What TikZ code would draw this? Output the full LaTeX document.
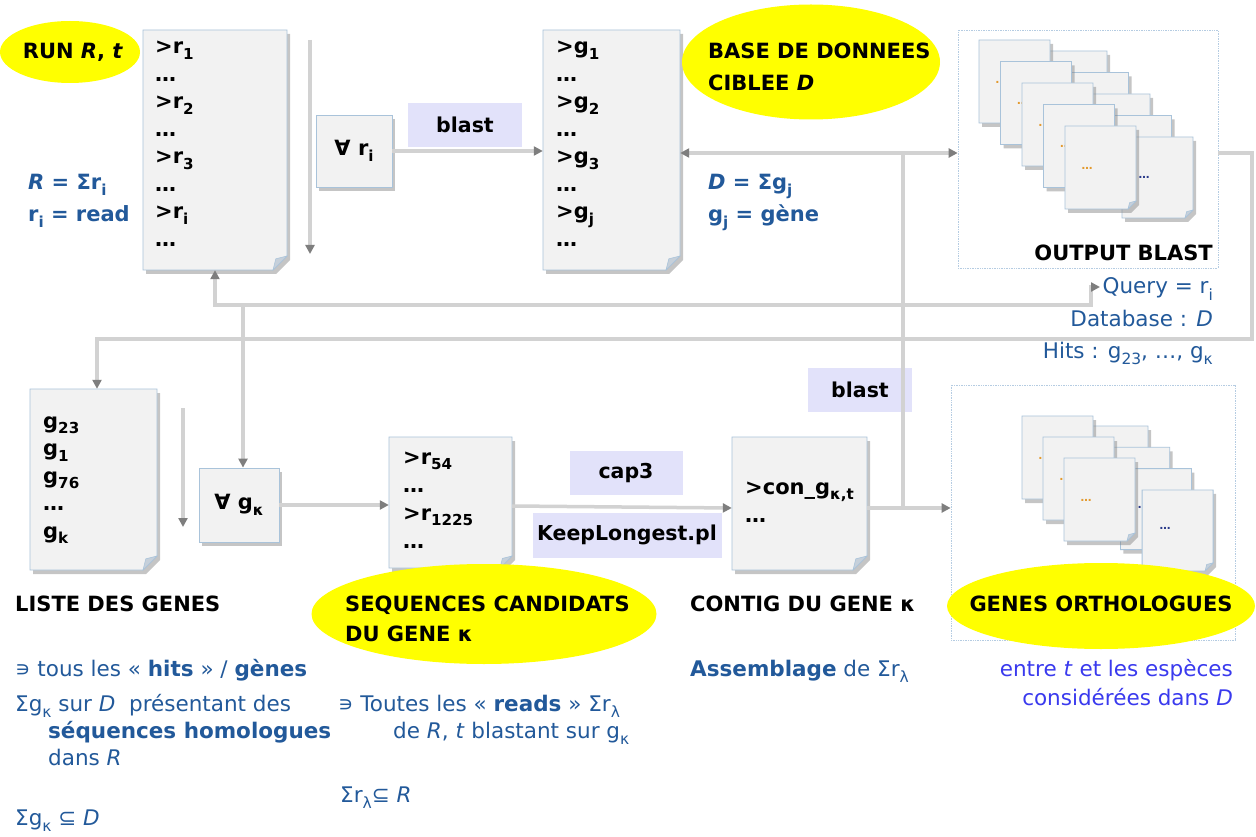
\documentclass[tikz,border=0pt]{standalone}
\usepackage{fontspec}
\usepackage{graphicx}
\setmainfont{DejaVu Sans}
\usetikzlibrary{arrows.meta,shadows,fit,calc,shapes.geometric}

\definecolor{docfillc}{HTML}{F2F2F2}
\definecolor{docedge}{HTML}{A9C3DA}
\definecolor{foldc}{HTML}{C6D0DA}
\definecolor{hilite}{HTML}{FFFF00}
\definecolor{tagfill}{HTML}{E2E2FA}
\definecolor{flowc}{HTML}{D2D2D2}
\definecolor{tipc}{HTML}{7E7E7E}
\definecolor{noteblue}{HTML}{22599A}
\definecolor{brightblue}{HTML}{3A3AEE}
\definecolor{boxdots}{HTML}{B5CCE2}
\definecolor{dotorange}{HTML}{E39A2E}
\definecolor{dotblue}{HTML}{2A3A8A}

% lowered, reduced index
\newcommand\lo[1]{\raisebox{-.28em}{\scalebox{.72}{#1}}}

% page with a folded lower-right corner: name, x0, y0, x1, y1, fold size
\newcommand\docpage[6]{%
  \path[docbody] (#2,#3) -- (#4,#3) -- (#4,#5-#6) -- (#4-#6,#5) -- (#2,#5) -- cycle;
  \path[foldpart] (#4,#5-#6) -- (#4-#6,#5) -- (#4-0.8*#6,#5-0.8*#6) -- cycle;
  \node[inner sep=0pt, fit={(#2,#3)(#4,#5)}] (#1) {};
}

\tikzset{
  flow/.style={draw=flowc, line width=3.5pt},
  arr/.style={flow, -{Triangle[length=9pt,width=9pt,color=tipc]}},
  docbody/.style={fill=docfillc, draw=docedge, line width=0.8pt,
    drop shadow={shadow xshift=3pt, shadow yshift=-4pt, opacity=.45}},
  foldpart/.style={fill=foldc, draw=docedge, line width=0.6pt},
  opbox/.style={rectangle, fill=docfillc, draw=docedge, line width=.8pt,
    drop shadow={shadow xshift=3pt, shadow yshift=-4pt, opacity=.45},
    font=\fontsize{21}{24}\selectfont\bfseries, inner sep=0pt},
  tag/.style={rectangle, fill=tagfill, font=\fontsize{20.5}{24}\selectfont\bfseries, inner sep=0pt},
  hl/.style={ellipse, fill=hilite, inner sep=0pt},
  head/.style={font=\fontsize{21}{24}\selectfont\bfseries, anchor=base west, inner sep=0pt},
  listline/.style={font=\fontsize{21}{24}\selectfont\bfseries, anchor=base west, inner sep=0pt},
  note/.style={text=noteblue, font=\fontsize{21.5}{24}\selectfont, anchor=base west, inner sep=0pt},
  noteB/.style={note, font=\fontsize{21}{24}\selectfont\bfseries},
  noteR/.style={note, anchor=base east},
  dotbox/.style={draw=boxdots, densely dotted, line width=.7pt},
  stackdots/.style={font=\fontsize{11}{12}\selectfont\bfseries, inner sep=0pt},
}

\begin{document}
\begin{tikzpicture}[x=1pt, y=-1pt]
\useasboundingbox[fill=white] (0,0) rectangle (1256,837);

% ---------- containers of result pages ----------
\node[dotbox, inner sep=0pt, fit={(958,30)(1218,268)}] (outbox) {};
\node[dotbox, inner sep=0pt, fit={(951,385)(1235,640)}] (orthbox) {};

% ---------- upper row ----------
\docpage{run}{143}{30}{287}{270}{14}
\foreach \t [count=\i] in {{>r\lo{1}},{…},{>r\lo{2}},{…},{>r\lo{3}},{…},{>r\lo{i}},{…}}
  \node[listline] (runl\i) at (155,54+27.5*\i-27.5) {\t};

\node[opbox, minimum width=76, minimum height=72] (forri) at (354,151) {∀ r\lo{i}};
\node[tag, minimum width=114, minimum height=44] (blastA) at (465,125) {blast};

\docpage{gdoc}{543}{30}{680}{270}{14}
\foreach \t [count=\i] in {{>g\lo{1}},{…},{>g\lo{2}},{…},{>g\lo{3}},{…},{>g\lo{j}},{…}}
  \node[listline] (gl\i) at (556,54+27.5*\i-27.5) {\t};

% stack of blast outputs
\foreach \i in {0,...,4} {
  \pgfmathsetmacro\bx{1036+21.5*\i}
  \pgfmathsetmacro\by{51+21.5*\i}
  \docpage{ob\i}{\bx}{\by}{\bx+71}{\by+81}{8}
  \node[stackdots, text=dotblue] (obd\i) at (\bx+22,\by+40) {…};
  \pgfmathsetmacro\fx{979+21.5*\i}
  \pgfmathsetmacro\fy{40+21.5*\i}
  \docpage{of\i}{\fx}{\fy}{\fx+71}{\fy+83}{8}
  \node[stackdots, text=dotorange] (ofd\i) at (\fx+22,\fy+42) {…};
}

% ---------- lower row ----------
\docpage{liste}{30}{389}{157}{570}{14}
\foreach \t [count=\i] in {{g\lo{23}},{g\lo{1}},{g\lo{76}},{…},{g\lo{k}}}
  \node[listline] (ll\i) at (43,428+27.5*\i-27.5) {\t};

\node[opbox, minimum width=80, minimum height=74] (forgk) at (239,505) {∀ g\lo{κ}};

\docpage{cand}{389}{437}{512}{568}{12}
\foreach \t [count=\i] in {{>r\lo{54}},{…},{>r\lo{1225}},{…}}
  \node[listline] (cl\i) at (403,464+28*\i-28) {\t};

\node[tag, minimum width=113, minimum height=44] (cap) at (626,473) {cap3};
\node[tag, minimum width=189, minimum height=45] (keep) at (627,535) {KeepLongest.pl};

\docpage{contig}{732}{437}{867}{570}{14}
\node[listline] (kl1) at (745,494) {>con\_g\lo{κ,t}};
\node[listline] (kl2) at (745,522) {…};

\node[tag, minimum width=104, minimum height=44] (blastB) at (860,390) {blast};

% stack of orthologous genes
\foreach \i in {0,...,3} {
  \pgfmathsetmacro\bx{1077+21.7*\i}
  \pgfmathsetmacro\by{426+21.3*\i}
  \docpage{gb\i}{\bx}{\by}{\bx+71}{\by+81}{8}
  \node[stackdots, text=dotblue] (gbd\i) at (\bx+23,\by+39) {…};
  \ifnum\i<3
    \pgfmathsetmacro\fx{1022+21*\i}
    \pgfmathsetmacro\fy{416+21*\i}
    \docpage{gf\i}{\fx}{\fy}{\fx+71}{\fy+83}{8}
    \node[stackdots, text=dotorange] (gfd\i) at (\fx+22,\fy+42) {…};
  \fi
}

% ---------- connectors ----------
\coordinate (jA) at (903,153);
\coordinate (jB) at (903,508);
\coordinate (jC) at (243,305);
\coordinate (loopR) at (1252,153);
\coordinate (loopB) at (1252,339);
\coordinate (loopL) at (97,339);
\coordinate (qbend) at (1091,305);
\coordinate (qturn) at (1091,287);
\coordinate (qtip) at (1100,287);
\coordinate (rbend) at (215,305);
\coordinate (scrollAtop) at (310,40);
\coordinate (scrollAbot) at (310,254);
\coordinate (scrollBtop) at (183,408);
\coordinate (scrollBbot) at (183,527);

\draw[arr] (scrollAtop) -- (scrollAbot);
\draw[arr] (scrollBtop) -- (scrollBbot);

\draw[arr] (forri.east) -- (forri.east -| gdoc.west);
\draw[flow] (jB) -- (jA);
\draw[arr] (jA) -- (jA -| gdoc.east);
\draw[arr] (jA) -- (jA -| outbox.west);
\draw[arr] (outbox.east |- jA) -- (loopR) -- (loopB) -- (loopL) -- (loopL |- liste.north);

\draw[arr] (jC) -- (rbend) -- (rbend |- run.south);
\draw[arr] (jC) -- (qbend) -- (qturn) -- (qtip);
\draw[arr] (jC) -- (jC |- forgk.north);

\draw[arr] (forgk.east) -- (forgk.east -| cand.west);
\draw[arr] (cand.east |- 0,506) -- (contig.west |- 0,508);
\draw[arr] (contig.east |- jB) -- (orthbox.west |- jB);

% ---------- highlighted titles ----------
\node[hl, minimum width=140, minimum height=62] (runoval) at (70,52) {};
\node[head, anchor=center] (runtxt) at (73,52) {RUN \textit{R}, \textit{t}};

\node[hl, minimum width=258, minimum height=115] (baseoval) at (811,62) {};
\node[head] (base1) at (708,59) {BASE DE DONNEES};
\node[head] (base2) at (708,91) {CIBLEE \textit{D}};

\node[hl, minimum width=345, minimum height=100] (seqoval) at (484,614) {};
\node[head] (seq1) at (345,611) {SEQUENCES CANDIDATS};
\node[head] (seq2) at (345,641) {DU GENE κ};

\node[hl, minimum width=308, minimum height=86] (orthoval) at (1101,606) {};
\node[head, anchor=base] (orthtxt) at (1101,611) {GENES ORTHOLOGUES};

% ---------- plain titles ----------
\node[head, anchor=base east] (outtxt) at (1213,261) {OUTPUT BLAST};
\node[head] (listetxt) at (15,611) {LISTE DES GENES};
\node[head] (contigtxt) at (690,611) {CONTIG DU GENE κ};

% ---------- notes ----------
\node[noteB] (rsum) at (28,190) {\textit{R} = Σr\lo{i}};
\node[noteB] (rread) at (28,222) {r\lo{i} = read};
\node[noteB] (dsum) at (708,190) {\textit{D} = Σg\lo{j}};
\node[noteB] (dgene) at (708,222) {g\lo{j} = gène};

\node[noteR] (query) at (1213,294) {Query = r\lo{i}};
\node[noteR] (dbase) at (1213,326) {Database : \textit{D}};
\node[noteR] (hits) at (1213,358) {Hits : g\lo{23}, …, g\lo{κ}};

\node[note] (n1) at (15,676) {∍ tous les « \textbf{hits} » / \textbf{gènes}};
\node[note] (n2) at (15,711) {Σg\lo{κ} sur \textit{D}\ \ présentant des};
\node[note] (n3) at (48,738) {\textbf{séquences homologues}};
\node[note] (n4) at (48,765) {dans \textit{R}};
\node[note] (n5) at (15,825) {Σg\lo{κ} ⊆ \textit{D}};

\node[note] (m1) at (338,711) {∍ Toutes les « \textbf{reads} » Σr\lo{λ}};
\node[note] (m2) at (393,738) {de \textit{R}, \textit{t} blastant sur g\lo{κ}};
\node[note] (m3) at (340,802) {Σr\lo{λ}⊆ \textit{R}};

\node[note] (a1) at (690,676) {\textbf{Assemblage} de Σr\lo{λ}};

\node[noteR, text=brightblue] (o1) at (1233,676) {entre \textit{t} et les espèces};
\node[noteR, text=brightblue] (o2) at (1233,705) {considérées dans \textit{D}};
\end{tikzpicture}
\end{document}
